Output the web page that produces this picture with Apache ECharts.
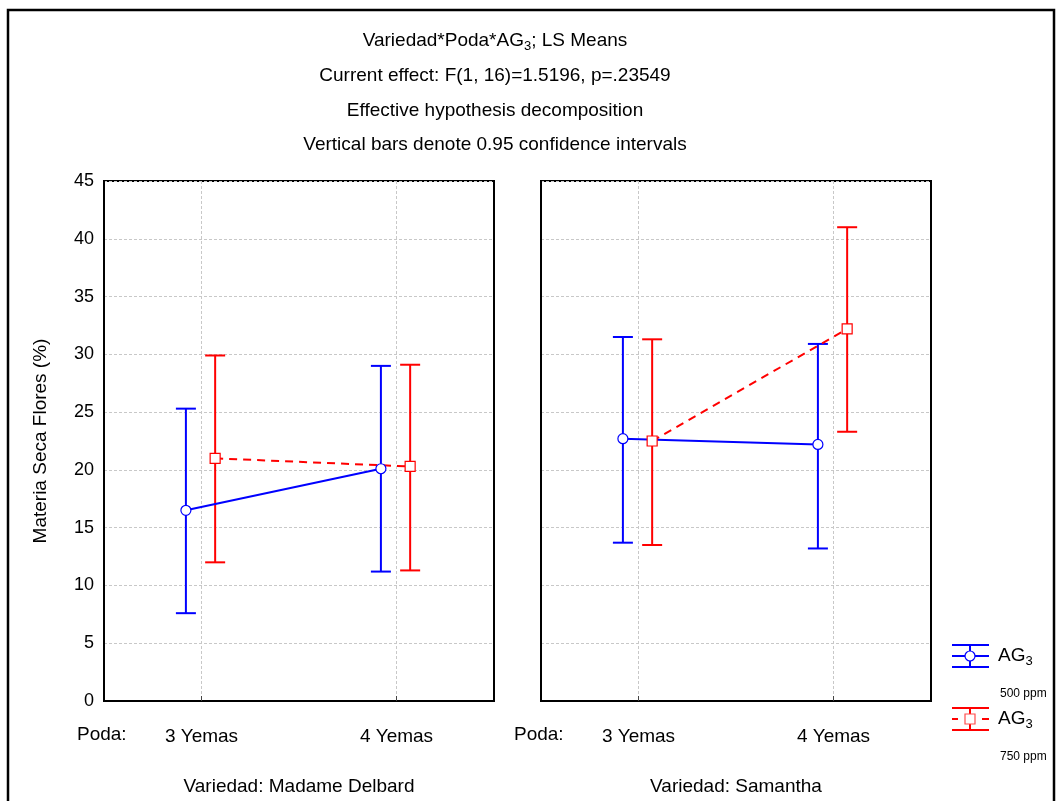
<!DOCTYPE html>
<html>
<head>
<meta charset="utf-8">
<script src="https://cdn.jsdelivr.net/npm/echarts@6/dist/echarts.min.js"></script>
<style>
  html, body { margin: 0; padding: 0; background: #fff; }
  #chart { width: 1058px; height: 801px; }
</style>
</head>
<body>
<div id="chart"></div>
<script>
const categories = ['3 Yemas', '4 Yemas'];
const varieties = ['Madame Delbard', 'Samantha'];

// [variety][poda]
const mean500 = [[16.5, 20.1], [22.7, 22.2]];
const low500 = [[7.6, 11.2], [13.7, 13.2]];
const high500 = [[25.3, 29.0], [31.5, 30.9]];

const mean750 = [[21.0, 20.3], [22.5, 32.2]];
const low750 = [[12.0, 11.3], [13.5, 23.3]];
const high750 = [[29.9, 29.1], [31.3, 41.0]];

const FONT = '"Liberation Sans", Arial, sans-serif';
const BLUE = '#0000ff';
const RED = '#ff0000';

// category axis with empty slots so the two categories sit at 1/4 and 3/4
const catAxisData = categories.flatMap((c) => ['', c]).concat(['']);
const catPos = categories.map((c, i) => i * 2 + 1);
const isCat = (i) => i % 2 === 1;

const chart = echarts.init(document.getElementById('chart'));

const grids = [
  { left: 104, top: 181, width: 390, height: 528 },
  { left: 541, top: 181, width: 390, height: 528 },
];

const xAxes = [];
const yAxes = [];
varieties.forEach((v, p) => {
  xAxes.push({
    type: 'category',
    gridIndex: p,
    data: catAxisData,
    boundaryGap: false,
    name: 'Variedad: ' + v,
    nameLocation: 'middle',
    nameGap: 76,
    nameTextStyle: { fontFamily: FONT, fontSize: 19, color: '#000' },
    axisLine: { lineStyle: { color: '#000', width: 2 } },
    axisTick: { show: true, inside: true, length: 5, interval: isCat, lineStyle: { color: '#444' } },
    axisLabel: { interval: isCat, margin: 26, fontFamily: FONT, fontSize: 19, color: '#000' },
    splitLine: { show: true, interval: isCat, lineStyle: { color: '#c8c8c8', type: [3, 2] } },
  });
  xAxes.push({ type: 'value', gridIndex: p, min: 0, max: 4, show: false });
  yAxes.push({
    type: 'value',
    gridIndex: p,
    min: 0,
    max: 45,
    interval: 5,
    name: p === 0 ? 'Materia Seca Flores (%)' : '',
    nameLocation: 'middle',
    nameGap: 54,
    nameTextStyle: { fontFamily: FONT, fontSize: 19, color: '#000' },
    axisLine: { show: true, lineStyle: { color: '#000', width: 2 } },
    axisTick: { show: false },
    axisLabel: { show: p === 0, margin: 10, fontFamily: FONT, fontSize: 18, color: '#000' },
    splitLine: { show: true, lineStyle: { color: '#c8c8c8', type: [3, 2] } },
  });
});

function errorSeries(p, low, high, dodge, color) {
  return {
    type: 'custom',
    xAxisIndex: p * 2 + 1,
    yAxisIndex: p,
    z: 2,
    data: categories.map((c, i) => [catPos[i] + dodge, low[p][i], high[p][i]]),
    encode: { x: 0, y: [1, 2] },
    renderItem: (params, api) => {
      const lo = api.coord([api.value(0), api.value(1)]);
      const hi = api.coord([api.value(0), api.value(2)]);
      const w = 10;
      const style = { stroke: color, lineWidth: 2 };
      return {
        type: 'group',
        children: [
          { type: 'line', shape: { x1: lo[0], y1: lo[1], x2: hi[0], y2: hi[1] }, style },
          { type: 'line', shape: { x1: lo[0] - w, y1: lo[1], x2: lo[0] + w, y2: lo[1] }, style },
          { type: 'line', shape: { x1: hi[0] - w, y1: hi[1], x2: hi[0] + w, y2: hi[1] }, style },
        ],
      };
    },
  };
}

function meanSeries(p, mean, dodge, color, symbol, dashed) {
  return {
    type: 'line',
    xAxisIndex: p * 2 + 1,
    yAxisIndex: p,
    z: 3,
    data: categories.map((c, i) => [catPos[i] + dodge, mean[p][i]]),
    symbol: symbol,
    symbolSize: 10,
    showAllSymbol: true,
    lineStyle: { color: color, width: 2, type: dashed ? [8, 6] : 'solid' },
    itemStyle: { color: '#fff', borderColor: color, borderWidth: 1.2 },
  };
}

const series = [];
varieties.forEach((v, p) => {
  series.push(errorSeries(p, low500, high500, -0.16, BLUE));
  series.push(errorSeries(p, low750, high750, 0.14, RED));
  series.push(meanSeries(p, mean750, 0.14, RED, 'rect', true));
  series.push(meanSeries(p, mean500, -0.16, BLUE, 'circle', false));
});

const sub = {
  a: { fontFamily: FONT, fontSize: 19, color: '#000' },
  s: { fontFamily: FONT, fontSize: 13, color: '#000', padding: [10, 0, 0, 0] },
};
const titleLines = [
  '{a|Variedad*Poda*AG}{s|3}{a|; LS Means}',
  '{a|Current effect: F(1, 16)=1.5196, p=.23549}',
  '{a|Effective hypothesis decomposition}',
  '{a|Vertical bars denote 0.95 confidence intervals}',
];
const titleY = [41, 76, 111, 145];

const graphic = [
  { type: 'rect', shape: { x: 8, y: 10, width: 1046, height: 800 }, style: { fill: 'none', stroke: '#000', lineWidth: 2.5 }, silent: true },
];
titleLines.forEach((t, i) => {
  graphic.push({ type: 'text', x: 495, y: titleY[i], style: { text: t, rich: sub, align: 'center', verticalAlign: 'middle' } });
});
graphic.push({ type: 'text', x: 77, y: 735, style: { text: 'Poda:', font: '19px ' + FONT, fill: '#000', verticalAlign: 'middle' } });
graphic.push({ type: 'text', x: 514, y: 735, style: { text: 'Poda:', font: '19px ' + FONT, fill: '#000', verticalAlign: 'middle' } });

// legend
function legendItem(cy, color, dashed, doseText) {
  const st = { stroke: color, lineWidth: 2 };
  const kids = [
    { type: 'line', shape: { x1: 952, y1: cy - 11, x2: 989, y2: cy - 11 }, style: st },
    { type: 'line', shape: { x1: 952, y1: cy + 11, x2: 989, y2: cy + 11 }, style: st },
    { type: 'line', shape: { x1: 970, y1: cy - 11, x2: 970, y2: cy + 11 }, style: st },
  ];
  if (dashed) {
    kids.push({ type: 'line', shape: { x1: 952, y1: cy, x2: 958, y2: cy }, style: st });
    kids.push({ type: 'line', shape: { x1: 982, y1: cy, x2: 989, y2: cy }, style: st });
    kids.push({ type: 'rect', shape: { x: 965, y: cy - 5, width: 10, height: 10 }, style: { fill: '#fff', stroke: '#ff4d4d', lineWidth: 1.2 } });
  } else {
    kids.push({ type: 'line', shape: { x1: 952, y1: cy, x2: 989, y2: cy }, style: st });
    kids.push({ type: 'circle', shape: { cx: 970, cy: cy, r: 5 }, style: { fill: '#fff', stroke: color, lineWidth: 1.2 } });
  }
  kids.push({ type: 'text', x: 998, y: cy, style: { text: '{a|AG}{s|3}', rich: sub, verticalAlign: 'middle' } });
  kids.push({ type: 'text', x: 1000, y: cy + 38, style: { text: doseText, font: '12px ' + FONT, fill: '#000', verticalAlign: 'middle' } });
  return { type: 'group', children: kids };
}
graphic.push(legendItem(656, BLUE, false, '500 ppm'));
graphic.push(legendItem(719, RED, true, '750 ppm'));

chart.setOption({
  animation: false,
  backgroundColor: '#fff',
  grid: grids.map((g) => Object.assign({ show: true, borderColor: '#000', borderWidth: 2 }, g)),
  xAxis: xAxes,
  yAxis: yAxes,
  series: series,
  graphic: graphic,
});
</script>
</body>
</html>
